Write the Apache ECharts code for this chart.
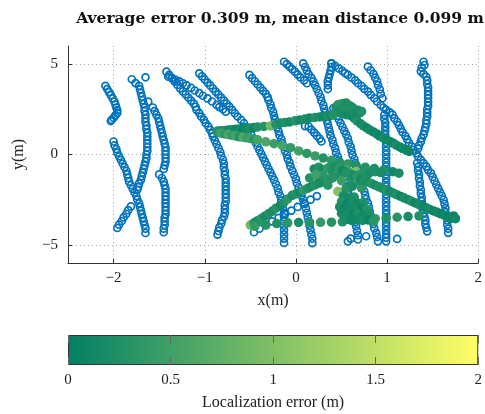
<!DOCTYPE html>
<html>
<head>
<meta charset="utf-8">
<script src="https://cdn.jsdelivr.net/npm/echarts@6/dist/echarts.min.js"></script>
<style>
  html, body { margin: 0; padding: 0; background: #fff; }
  #chart { width: 485px; height: 414px; }
</style>
</head>
<body>
<div id="chart"></div>
<script>
// axis ticks
const xTicks = [-2, -1, 0, 1, 2]
const yTicks = [-5, 0, 5]
const errTicks = [0, 0.5, 1, 1.5, 2]

// ground-truth tracks (blue rings), [x, y] in metres
const trackA1 = [[-2.09,3.8],[-2.07,3.62],[-2.05,3.45],[-2.03,3.28],[-2.01,3.1],[-1.99,2.93],[-1.98,2.76],[-1.97,2.6],[-1.96,2.45],[-1.96,2.3],[-1.98,2.16],[-2.0,2.03],[-2.02,1.92],[-2.03,1.85]]
const trackA2 = [[-2.0,0.72],[-1.99,0.5],[-1.97,0.3],[-1.96,0.1],[-1.94,-0.1],[-1.92,-0.3],[-1.9,-0.5],[-1.88,-0.7],[-1.86,-0.9],[-1.85,-1.1],[-1.84,-1.3],[-1.83,-1.5],[-1.81,-1.7],[-1.79,-1.9],[-1.77,-2.1],[-1.75,-2.3],[-1.74,-2.5],[-1.72,-2.7],[-1.71,-2.9],[-1.7,-3.1],[-1.69,-3.3],[-1.68,-3.5],[-1.67,-3.7],[-1.66,-3.9],[-1.65,-4.1],[-1.65,-4.34]]
const trackA3 = [[-1.96,-4.06],[-1.94,-3.88],[-1.91,-3.68],[-1.89,-3.48],[-1.86,-3.28],[-1.84,-3.08],[-1.81,-2.87]]
const trackA4 = [[-1.65,4.27],[-1.8,4.16],[-1.76,3.95],[-1.72,3.8],[-1.71,3.6],[-1.7,3.4],[-1.69,3.2],[-1.68,3.0],[-1.67,2.8],[-1.66,2.6],[-1.66,2.4],[-1.65,2.2],[-1.65,2.0],[-1.65,1.8],[-1.64,1.6],[-1.64,1.4],[-1.63,1.2],[-1.63,1.0],[-1.63,0.8],[-1.63,0.6],[-1.63,0.4],[-1.63,0.2],[-1.64,0.0],[-1.64,-0.2],[-1.65,-0.4],[-1.66,-0.6],[-1.67,-0.8],[-1.68,-1.0],[-1.69,-1.2],[-1.7,-1.4],[-1.72,-1.6],[-1.73,-1.8],[-1.74,-1.95]]
const trackA5 = [[-1.62,2.92],[-1.57,2.6],[-1.55,2.4],[-1.53,2.2],[-1.51,2.0],[-1.5,1.8],[-1.49,1.6],[-1.48,1.4],[-1.47,1.2],[-1.46,1.0],[-1.45,0.8],[-1.44,0.6],[-1.43,0.4],[-1.43,0.2],[-1.43,0.0],[-1.43,-0.2],[-1.43,-0.4],[-1.44,-0.6],[-1.45,-0.8],[-1.5,-1.1],[-1.47,-1.3],[-1.45,-1.5],[-1.44,-1.7],[-1.43,-1.9],[-1.43,-2.1],[-1.43,-2.3],[-1.43,-2.5],[-1.43,-2.7],[-1.43,-2.9],[-1.43,-3.1],[-1.43,-3.3],[-1.44,-3.5],[-1.44,-3.7],[-1.44,-3.9],[-1.45,-4.1],[-1.45,-4.3]]
const trackB1 = [[-1.42,4.58],[-1.39,4.4],[-1.36,4.22],[-1.33,4.03],[-1.3,3.85],[-1.27,3.66],[-1.24,3.49],[-1.21,3.32],[-1.18,3.15],[-1.15,2.98],[-1.12,2.81],[-1.1,2.64],[-1.09,2.47],[-1.06,2.29],[-1.04,2.1],[-1.01,1.92],[-0.99,1.73],[-0.96,1.55],[-0.94,1.36],[-0.92,1.17],[-0.91,0.99],[-0.89,0.78],[-0.87,0.57],[-0.85,0.35],[-0.83,0.14],[-0.82,-0.07],[-0.8,-0.29],[-0.79,-0.5],[-0.79,-0.71],[-0.78,-0.92],[-0.78,-1.13],[-0.77,-1.34],[-0.77,-1.55],[-0.77,-1.76],[-0.77,-1.97],[-0.77,-2.18],[-0.77,-2.39],[-0.77,-2.6],[-0.78,-2.81],[-0.78,-3.02],[-0.78,-3.23],[-0.79,-3.43],[-0.81,-3.63],[-0.82,-3.83],[-0.84,-4.03],[-0.85,-4.23],[-0.86,-4.43]]
const trackB2 = [[-1.4,4.3],[-1.36,4.22],[-1.32,4.13],[-1.28,4.04],[-1.24,3.94],[-1.2,3.82],[-1.15,3.68],[-1.11,3.54],[-1.06,3.39],[-1.02,3.25],[-0.97,3.1],[-0.92,2.93],[-0.87,2.74],[-0.84,2.62],[-0.8,2.5],[-0.77,2.37]]
const trackB3 = [[-1.06,4.49],[-1.03,4.32],[-1.0,4.15],[-0.97,3.98],[-0.94,3.82],[-0.91,3.65],[-0.88,3.48],[-0.85,3.32],[-0.82,3.15],[-0.79,2.98],[-0.76,2.82],[-0.73,2.65],[-0.7,2.47],[-0.67,2.28],[-0.64,2.1],[-0.6,1.91],[-0.57,1.73],[-0.55,1.52],[-0.52,1.3],[-0.49,1.09],[-0.47,0.87],[-0.44,0.65],[-0.42,0.44],[-0.4,0.24],[-0.38,0.03],[-0.36,-0.17],[-0.34,-0.38],[-0.32,-0.58],[-0.3,-0.79],[-0.28,-0.99],[-0.26,-1.2],[-0.24,-1.4],[-0.22,-1.63],[-0.2,-1.86],[-0.19,-2.09],[-0.17,-2.31],[-0.16,-2.54],[-0.15,-2.77],[-0.14,-3.0],[-0.13,-3.23],[-0.13,-3.47],[-0.13,-3.7],[-0.13,-3.94],[-0.13,-4.18],[-0.13,-4.42],[-0.13,-4.65],[-0.13,-4.89]]
const trackB4 = [[-0.51,4.4],[-0.48,4.22],[-0.45,4.05],[-0.42,3.87],[-0.39,3.7],[-0.36,3.52],[-0.33,3.35],[-0.31,3.17],[-0.3,3.0],[-0.28,2.78],[-0.27,2.57],[-0.25,2.36],[-0.24,2.14],[-0.23,1.93],[-0.22,1.71],[-0.21,1.5],[-0.19,1.28],[-0.18,1.07],[-0.16,0.85],[-0.15,0.63],[-0.13,0.42],[-0.12,0.2],[-0.1,-0.01],[-0.09,-0.23],[-0.07,-0.44],[-0.06,-0.66],[-0.04,-0.89],[-0.02,-1.12],[0.0,-1.35],[0.01,-1.58],[0.03,-1.81],[0.05,-2.04],[0.06,-2.27],[0.08,-2.5],[0.1,-2.74],[0.11,-2.98],[0.12,-3.22],[0.13,-3.46],[0.14,-3.7],[0.15,-3.94],[0.16,-4.18],[0.17,-4.42],[0.18,-4.66],[0.18,-4.9]]
const trackT1 = [[-0.13,5.13],[-0.1,5.0],[-0.07,4.86],[-0.04,4.72],[-0.01,4.58],[0.02,4.42],[0.05,4.26],[0.09,4.1],[0.12,3.94]]
const trackT2 = [[0.08,5.04],[0.1,4.84],[0.12,4.64],[0.14,4.44],[0.17,4.24],[0.19,4.04],[0.21,3.84],[0.23,3.62],[0.25,3.4],[0.27,3.18],[0.28,2.96],[0.3,2.74],[0.31,2.53],[0.32,2.32],[0.33,2.11],[0.34,1.9],[0.35,1.69],[0.36,1.48],[0.37,1.27],[0.38,1.04],[0.4,0.81],[0.41,0.58],[0.43,0.35],[0.44,0.12],[0.46,-0.11],[0.47,-0.33],[0.49,-0.54],[0.5,-0.76],[0.51,-0.97],[0.53,-1.19],[0.54,-1.4],[0.55,-1.61],[0.56,-1.82],[0.57,-2.03],[0.58,-2.24],[0.59,-2.45],[0.6,-2.66],[0.61,-2.87],[0.62,-3.09],[0.63,-3.31],[0.64,-3.53],[0.65,-3.75],[0.66,-3.97],[0.67,-4.22],[0.68,-4.46],[0.68,-4.7],[0.6,-4.65],[0.57,-4.8]]
const trackT3 = [[0.41,2.56],[0.43,2.35],[0.45,2.14],[0.47,1.94],[0.49,1.73],[0.51,1.52],[0.53,1.31],[0.55,1.11],[0.57,0.9],[0.58,0.67],[0.6,0.44],[0.61,0.21],[0.62,-0.02],[0.64,-0.25],[0.65,-0.48],[0.67,-0.71],[0.68,-0.94],[0.69,-1.16],[0.71,-1.38],[0.72,-1.59],[0.73,-1.81],[0.75,-2.03],[0.76,-2.25],[0.77,-2.46],[0.79,-2.68],[0.8,-2.9],[0.81,-3.14],[0.82,-3.38],[0.84,-3.61],[0.85,-3.85],[0.86,-4.09],[0.88,-4.33],[0.89,-4.56],[0.9,-4.8]]
const trackT4 = [[0.39,5.04],[0.39,4.84],[0.38,4.64],[0.37,4.44],[0.36,4.24],[0.35,4.04],[0.35,3.84],[0.35,3.62]]
const trackLR = [[0.39,5.04],[0.43,4.9],[0.47,4.76],[0.51,4.62],[0.54,4.5],[0.57,4.4],[0.61,4.25],[0.65,4.1],[0.68,3.94],[0.72,3.79],[0.75,3.63],[0.79,3.48],[0.82,3.3],[0.86,3.11],[0.89,2.93],[0.93,2.74],[0.96,2.6],[0.99,2.47],[1.03,2.33],[1.06,2.2],[1.08,2.0],[1.11,1.81],[1.13,1.62],[1.15,1.42],[1.17,1.23],[1.2,1.03],[1.22,0.84],[1.24,0.65],[1.27,0.45],[1.29,0.26],[1.32,0.07],[1.34,-0.11],[1.37,-0.3],[1.4,-0.48],[1.43,-0.66],[1.45,-0.85],[1.48,-1.03],[1.5,-1.24],[1.52,-1.45],[1.54,-1.66],[1.56,-1.87],[1.58,-2.08],[1.6,-2.29],[1.62,-2.5],[1.63,-2.73],[1.64,-2.96],[1.64,-3.19],[1.65,-3.42],[1.66,-3.65],[1.66,-3.88],[1.67,-4.1],[1.67,-4.33]]
const trackT5 = [[0.79,4.86],[0.82,4.66],[0.85,4.46],[0.87,4.25],[0.89,4.05],[0.9,3.84],[0.92,3.6],[0.93,3.36],[0.95,3.11]]
const trackT6 = [[0.97,2.19],[0.97,1.97],[0.98,1.75],[0.98,1.53],[0.98,1.31],[0.98,1.09],[0.99,0.87],[0.99,0.65],[0.99,0.43],[0.99,0.21],[0.99,0.0],[0.99,-0.22],[0.99,-0.44],[0.99,-0.66],[0.99,-0.88],[0.99,-1.1],[0.99,-1.32],[0.99,-1.54],[0.99,-1.76],[0.99,-1.98],[0.99,-2.2],[0.99,-2.42],[0.99,-2.64],[0.99,-2.86],[0.99,-3.08],[0.99,-3.3],[0.99,-3.52],[0.99,-3.74],[0.99,-3.96],[0.99,-4.18],[0.99,-4.4],[0.99,-4.6],[0.99,-4.8]]
const trackR1 = [[1.4,5.13],[1.41,4.95],[1.38,4.8],[1.37,4.6],[1.4,4.45],[1.43,4.3],[1.44,4.1],[1.44,3.9],[1.45,3.7],[1.45,3.5],[1.45,3.3],[1.45,3.1],[1.45,2.9],[1.45,2.7],[1.44,2.5],[1.44,2.3],[1.44,2.1],[1.43,1.9],[1.43,1.7],[1.42,1.5],[1.41,1.3],[1.4,1.1],[1.38,0.9],[1.37,0.7],[1.35,0.5],[1.34,0.32]]
const trackR2 = [[1.33,-0.47],[1.34,-0.68],[1.34,-0.89],[1.35,-1.1],[1.35,-1.31],[1.36,-1.52],[1.36,-1.73],[1.37,-1.95],[1.37,-2.16],[1.38,-2.37],[1.38,-2.58],[1.39,-2.79],[1.39,-3.0],[1.4,-3.23],[1.41,-3.44],[1.42,-3.65],[1.42,-3.85],[1.43,-4.05],[1.44,-4.25]]
const trackSD = [[0.1,1.57],[0.14,1.55],[0.17,1.38],[0.2,1.21],[0.23,1.04],[0.26,0.88],[0.28,0.72]]
const trackBB = [[-0.46,-4.3],[-0.4,-4.1],[-0.33,-3.9],[-0.26,-3.7],[-0.19,-3.5],[-0.12,-3.3],[-0.05,-3.1],[0.02,-2.9],[0.09,-2.7],[0.16,-2.5],[0.23,-2.3]]
const loose = [[0.77,-4.52],[1.11,-4.67]]

// estimated positions (filled dots), [x, y, error]
const bandG1 = [[-0.86,1.3,0.2],[-0.82,1.32,0.15],[-0.78,1.33,0.25],[-0.74,1.35,0.12],[-0.7,1.37,0.2],[-0.66,1.39,0.1],[-0.62,1.41,0.18],[-0.58,1.43,0.08],[-0.54,1.45,0.15],[-0.5,1.47,0.22],[-0.46,1.49,0.12],[-0.42,1.52,0.25],[-0.35,1.55,0.3],[-0.28,1.58,0.9],[-0.22,1.66,0.3],[-0.17,1.74,0.2],[-0.12,1.77,0.25],[-0.07,1.8,0.15],[-0.01,1.86,0.3],[0.04,1.91,0.18],[0.1,1.96,0.22],[0.15,2.02,0.15],[0.21,2.05,0.25],[0.26,2.08,0.2],[0.3,2.11,0.12],[0.34,2.13,0.2],[0.38,2.16,0.15],[0.41,2.18,0.25]]
const blobC1 = [[0.44,2.6,0.25],[0.46,2.75,0.3],[0.48,2.5,0.2],[0.5,2.8,0.35],[0.52,2.65,0.25],[0.54,2.4,0.3],[0.55,2.85,0.2],[0.57,2.55,0.28],[0.59,2.7,0.22],[0.6,2.4,0.3],[0.62,2.6,0.2],[0.64,2.5,0.25],[0.66,2.35,0.15],[0.68,2.45,0.2],[0.7,2.3,0.18],[0.72,2.38,0.25],[0.5,2.3,0.2],[0.55,2.2,0.15]]
const bandG2 = [[0.6,2.15,0.2],[0.64,2.0,0.15],[0.67,1.86,0.25],[0.71,1.7,0.12],[0.74,1.58,0.2],[0.78,1.46,0.1],[0.81,1.36,0.18],[0.85,1.25,0.1],[0.89,1.13,0.15],[0.92,1.02,0.08],[0.96,0.92,0.2],[0.99,0.82,0.12],[1.03,0.72,0.15],[1.07,0.62,0.1],[1.1,0.52,0.2],[1.14,0.42,0.08],[1.17,0.33,0.15],[1.21,0.25,0.12],[1.24,0.17,0.1]]
const bandG3 = [[-0.86,1.22,0.3],[-0.82,1.18,0.5],[-0.78,1.14,0.35],[-0.74,1.1,0.6],[-0.7,1.06,0.4],[-0.66,1.02,0.55],[-0.62,0.98,0.3],[-0.58,0.95,0.65],[-0.54,0.92,0.45],[-0.5,0.88,0.5],[-0.46,0.85,0.35],[-0.42,0.81,0.55],[-0.33,0.7,0.6],[-0.24,0.6,0.45],[-0.15,0.5,0.55],[-0.06,0.38,0.4],[0.03,0.2,0.5],[0.12,0.06,0.35],[0.21,-0.08,0.45],[0.3,-0.2,0.3],[0.39,-0.32,0.4],[0.48,-0.44,0.3],[0.57,-0.52,0.35],[0.66,-0.6,0.25],[0.76,-0.7,0.3],[0.86,-0.78,0.2],[0.96,-0.86,0.25],[1.06,-0.95,0.15],[1.13,-1.03,0.2]]
const bandG4 = [[-0.5,-3.9,0.9],[-0.46,-3.78,0.3],[-0.42,-3.66,0.2],[-0.38,-3.54,0.35],[-0.34,-3.41,0.15],[-0.3,-3.28,0.25],[-0.26,-3.14,0.2],[-0.22,-2.97,0.3],[-0.17,-2.8,0.15],[-0.13,-2.63,0.25],[-0.09,-2.46,0.35],[-0.04,-2.26,0.2],[0.0,-2.17,0.3],[0.04,-2.08,0.15],[0.08,-1.98,0.4],[0.13,-1.87,0.25],[0.17,-1.77,0.2],[0.21,-1.68,0.3],[0.26,-1.58,0.15],[0.3,-1.49,0.25],[0.35,-1.39,0.35],[0.39,-1.3,0.2],[0.43,-1.2,0.3],[0.47,-1.1,0.15],[0.51,-1.0,0.25],[0.55,-0.9,0.2]]
const bandG5 = [[-0.45,-3.97,0.4],[-0.33,-3.9,0.3],[-0.21,-3.82,0.25],[-0.09,-3.78,0.35],[0.03,-3.76,0.2],[0.15,-3.75,0.3],[0.27,-3.75,0.4],[0.39,-3.74,0.3],[0.51,-3.72,0.25],[0.63,-3.66,0.3],[0.75,-3.6,0.2],[0.87,-3.55,0.35],[0.99,-3.52,0.25],[1.11,-3.47,0.3],[1.23,-3.43,0.2],[1.35,-3.4,0.25]]
const bandG6 = [[0.39,-0.6,0.3],[0.43,-0.7,0.2],[0.47,-0.79,0.35],[0.51,-0.88,0.15],[0.55,-0.97,0.25],[0.59,-1.06,0.3],[0.63,-1.15,0.2],[0.67,-1.25,0.35],[0.71,-1.34,0.15],[0.75,-1.43,0.25],[0.79,-1.52,0.2],[0.83,-1.61,0.3],[0.87,-1.7,0.15],[0.91,-1.79,0.25],[0.95,-1.88,0.2],[0.99,-1.97,0.3],[1.03,-2.05,0.15],[1.07,-2.14,0.2],[1.11,-2.23,0.25],[1.15,-2.32,0.1],[1.19,-2.41,0.2],[1.23,-2.5,0.15],[1.27,-2.59,0.25],[1.31,-2.68,0.1],[1.35,-2.77,0.2],[1.39,-2.86,0.15],[1.43,-2.95,0.12],[1.47,-3.04,0.2],[1.51,-3.12,0.1],[1.55,-3.2,0.15],[1.59,-3.28,0.08],[1.63,-3.36,0.12],[1.67,-3.43,0.05],[1.71,-3.5,0.1],[1.73,-3.4,0.08],[1.69,-3.55,0.1],[1.75,-3.55,0.12]]
const blobC2 = [[0.2,-0.8,0.2],[0.25,-0.7,0.3],[0.3,-0.85,0.15],[0.35,-0.75,0.4],[0.4,-0.95,0.25],[0.45,-0.8,0.5],[0.5,-1.05,0.3],[0.55,-0.85,0.6],[0.6,-1.0,0.7],[0.66,-0.94,1.0],[0.7,-1.1,0.4],[0.75,-0.95,0.3],[0.8,-1.05,0.2],[0.87,-0.95,0.25],[0.93,-1.0,0.2],[0.3,-1.15,0.35],[0.4,-1.3,0.3],[0.5,-1.45,0.45],[0.6,-1.35,0.3],[0.7,-1.5,0.25],[0.25,-1.5,0.2],[0.35,-1.7,0.3],[0.46,-2.04,1.0],[0.55,-1.9,0.3],[0.62,-1.75,0.2],[0.72,-1.85,0.35],[0.15,-1.3,0.3],[0.22,-1.1,0.5]]
const blobC3 = [[0.52,-2.3,0.2],[0.58,-2.4,0.15],[0.64,-2.35,0.25],[0.5,-2.6,0.3],[0.56,-2.7,0.1],[0.62,-2.6,0.2],[0.68,-2.7,0.15],[0.74,-2.65,0.25],[0.48,-2.9,0.2],[0.54,-3.0,0.1],[0.6,-2.95,0.15],[0.66,-3.05,0.2],[0.72,-2.95,0.1],[0.78,-3.05,0.3],[0.5,-3.25,0.15],[0.56,-3.3,0.2],[0.62,-3.35,0.1],[0.68,-3.3,0.25],[0.74,-3.35,0.15],[0.8,-3.3,0.2],[0.55,-3.6,0.2],[0.61,-3.65,0.1],[0.67,-3.6,0.15],[0.73,-3.65,0.2],[0.79,-3.62,0.1],[0.85,-3.7,0.35]]

const truthData = [].concat(trackA1, trackA2, trackA3, trackA4, trackA5, trackB1, trackB2, trackB3,
  trackB4, trackT1, trackT2, trackT3, trackT4, trackLR, trackT5, trackT6, trackR1, trackR2, trackSD, trackBB, loose)
const estData = [].concat(bandG1, bandG3, bandG4, bandG5, blobC2, bandG6, blobC3, bandG2, blobC1)

const serif = "'Liberation Serif', 'DejaVu Serif', serif"
const minus = (v) => String(v).replace("-", "\u2212")

const chart = echarts.init(document.getElementById("chart"), null, { renderer: "canvas" })

const labelStyle = { fontFamily: serif, fontSize: 15, color: "#222" }
const nameStyle = { fontFamily: serif, fontSize: 16, color: "#222" }

chart.setOption({
  animation: false,
  title: {
    text: "{b|Average error }{n|0.309}{b| m, mean distance }{n|0.099}{b| m}",
    left: 275,
    top: 6,
    textAlign: "center",
    textStyle: {
      rich: {
        b: { fontFamily: "'DejaVu Serif', serif", fontWeight: "bold", fontSize: 15.5, color: "#111" },
        n: { fontFamily: "'DejaVu Serif', serif", fontSize: 15.5, color: "#111" }
      }
    }
  },
  grid: [
    { left: 68, right: 2, top: 46, bottom: 151 },
    { left: 68, right: 2, top: 335, height: 30 }
  ],
  visualMap: {
    type: "continuous",
    show: false,
    min: 0,
    max: 2,
    dimension: 2,
    seriesIndex: 1,
    inRange: { color: ["#008066", "#ffff66"] }
  },
  xAxis: [
    {
      gridIndex: 0,
      type: "value",
      min: -2.5,
      max: 2,
      name: "x(m)",
      nameLocation: "middle",
      nameGap: 30,
      nameTextStyle: nameStyle,
      axisLine: { show: true, onZero: false, lineStyle: { color: "#333" } },
      axisTick: { show: true, inside: true, length: 4, customValues: xTicks, lineStyle: { color: "#333" } },
      axisLabel: { customValues: xTicks, formatter: minus, margin: 8, ...labelStyle },
      splitLine: { show: true, lineStyle: { type: [1, 3], color: "#aaa" } }
    },
    {
      gridIndex: 1,
      type: "value",
      min: 0,
      max: 2,
      interval: 0.5,
      z: 10,
      name: "Localization error (m)",
      nameLocation: "middle",
      nameGap: 30,
      nameTextStyle: nameStyle,
      axisLine: { show: false },
      axisTick: { show: true, inside: true, length: 8, lineStyle: { color: "#666" } },
      axisLabel: { margin: 8, ...labelStyle },
      splitLine: { show: false }
    },
    {
      gridIndex: 1,
      type: "value",
      position: "top",
      min: 0,
      max: 2,
      interval: 0.5,
      z: 10,
      axisLine: { show: false },
      axisTick: { show: true, inside: true, length: 8, lineStyle: { color: "#666" } },
      axisLabel: { show: false },
      splitLine: { show: false }
    }
  ],
  yAxis: [
    {
      gridIndex: 0,
      type: "value",
      min: -6,
      max: 6,
      name: "y(m)",
      nameLocation: "middle",
      nameGap: 41,
      nameTextStyle: nameStyle,
      axisLine: { show: true, onZero: false, lineStyle: { color: "#333" } },
      axisTick: { show: true, inside: true, length: 4, customValues: yTicks, lineStyle: { color: "#333" } },
      axisLabel: { customValues: yTicks, formatter: minus, margin: 10, ...labelStyle },
      splitLine: { show: true, lineStyle: { type: [1, 3], color: "#aaa" } }
    },
    {
      gridIndex: 1,
      type: "category",
      data: ["err"],
      show: false
    }
  ],
  series: [
    {
      name: "truth",
      type: "scatter",
      xAxisIndex: 0,
      yAxisIndex: 0,
      symbol: "circle",
      symbolSize: 7,
      data: truthData,
      itemStyle: { color: "rgba(0,0,0,0)", borderColor: "#0072BD", borderWidth: 1.7, opacity: 1 }
    },
    {
      name: "estimate",
      type: "scatter",
      xAxisIndex: 0,
      yAxisIndex: 0,
      symbol: "circle",
      symbolSize: 9.5,
      data: estData,
      itemStyle: { opacity: 1 }
    },
    {
      name: "colorbar",
      type: "bar",
      xAxisIndex: 1,
      yAxisIndex: 1,
      barWidth: "100%",
      data: [2],
      silent: true,
      itemStyle: {
        borderColor: "#333",
        borderWidth: 1,
        color: new echarts.graphic.LinearGradient(0, 0, 1, 0, [
          { offset: 0, color: "#008066" },
          { offset: 1, color: "#ffff66" }
        ])
      }
    }
  ]
})
</script>
</body>
</html>
